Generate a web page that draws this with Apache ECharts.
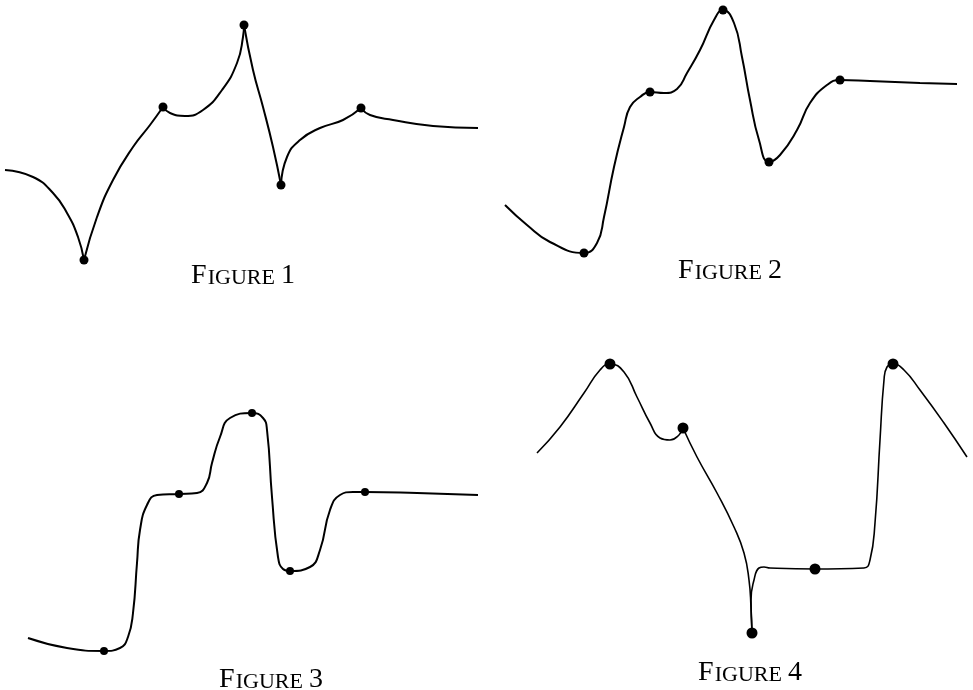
<!DOCTYPE html>
<html>
<head>
<meta charset="utf-8">
<script src="https://cdn.jsdelivr.net/npm/echarts@6/dist/echarts.min.js"></script>
<style>
html,body{margin:0;padding:0;background:#fff;}
#main{width:973px;height:690px;}
</style>
</head>
<body>
<div id="main"></div>
<script>
/* figure data: [x, y] in each panel's own units, y counted downward */
var fig1Segs = [
	[[5,170],[33,177],[53,193],[67,213],[78,237],[84,260]],
	[[84,260],[97,217],[113,180],[133,147],[150,125],[163,107]],
	[[163,107],[170,113],[185,116],[203,110],[222,90],[237,63],[243,37],[244,25]],
	[[244,25],[253,70],[263,107],[273,147],[281,185]],
	[[281,185],[287,157],[300,140],[320,128],[343,120],[361,108]],
	[[361,108],[370,115],[393,120],[433,126],[478,128]]
];
var fig1Dots = [[84,260],[163,107],[244,25],[281,185],[361,108]];

var fig2Segs = [
	[[18,205],[40,225],[63,242],[97,253],[110,243],[117,217],[127,167],[137,127],[143,107],
	 [153,97],[163,92],[177,93],[190,89],[200,73],[213,50],[227,20],[236,10],[247,23],
	 [255,57],[263,100],[272,140],[282,162],[293,155],[310,130],[323,103],[340,85],
	 [353,80],[383,81],[433,83],[470,84]]
];
var fig2Dots = [[97,253],[163,92],[236,10],[282,162],[353,80]];

var fig3Segs = [
	[[28,258],[67,268],[104,271],[120,268],[128,257],[133,233],[137,183],[140,150],[147,125],
	 [157,115],[179,114],[197,113],[207,103],[212,83],[220,57],[230,38],[252,33],[263,38],
	 [267,50],[272,117],[278,177],[283,189],[290,191],[310,187],[320,170],[330,130],
	 [340,115],[353,112],[365,112],[417,113],[478,115]]
];
var fig3Dots = [[104,271],[179,114],[252,33],[290,191],[365,112]];

var fig4Segs = [
	[[50,113],[73,87],[97,53],[113,30],[123,24],[137,32],[150,57],[163,83],[173,98],
	 [183,100],[192,95],[196,88]],
	[[196,88],[210,117],[230,153],[247,187],[257,213],[262,240],[264,267],[265,293]],
	[[265,293],[264,260],[267,240],[272,228],[277,227],[283,228],[328,229],[377,228],
	 [383,220],[388,183],[393,100],[397,40],[400,27],[406,24],[417,30],[433,50],[457,83],[480,117]]
];
var fig4Dots = [[123,24],[196,88],[265,293],[328,229],[406,24]];

var figNames = ['1', '2', '3', '4'];

var panels = [
	{left:0, top:0, width:486, height:300, segs:fig1Segs, dots:fig1Dots, lw:2, dot:9, tx:238, ty:257},
	{left:487, top:0, width:486, height:300, segs:fig2Segs, dots:fig2Dots, lw:2, dot:9, tx:725, ty:252},
	{left:0, top:380, width:486, height:310, segs:fig3Segs, dots:fig3Dots, lw:2, dot:8, tx:266, ty:661},
	{left:487, top:340, width:486, height:350, segs:fig4Segs, dots:fig4Dots, lw:1.6, dot:11, tx:745, ty:654}
];

var mychart = echarts.init(document.getElementById('main'));
var grids = [], xAxes = [], yAxes = [], series = [], titles = [];

panels.forEach(function(p, i){
	grids.push({left:p.left, top:p.top, width:p.width, height:p.height});
	xAxes.push({type:'value', gridIndex:i, min:0, max:p.width, show:false});
	yAxes.push({type:'value', gridIndex:i, min:0, max:p.height, inverse:true, show:false});
	p.segs.forEach(function(seg){
		series.push({
			type:'line',
			xAxisIndex:i,
			yAxisIndex:i,
			data:seg,
			smooth:0.5,
			showSymbol:false,
			clip:false,
			silent:true,
			lineStyle:{color:'#000', width:p.lw}
		});
	});
	series.push({
		type:'scatter',
		xAxisIndex:i,
		yAxisIndex:i,
		data:p.dots,
		symbolSize:p.dot,
		itemStyle:{color:'#000', opacity:1},
		clip:false,
		silent:true,
		z:5
	});
	titles.push({
		text:'{a|F}{b|IGURE} {a|' + figNames[i] + '}',
		left:p.tx,
		top:p.ty,
		textAlign:'center',
		textStyle:{
			fontWeight:'normal',
			rich:{
				a:{fontFamily:'Liberation Serif', fontWeight:'normal', fontSize:28, color:'#000', verticalAlign:'bottom', lineHeight:28},
				b:{fontFamily:'Liberation Serif', fontWeight:'normal', fontSize:22, color:'#000', verticalAlign:'bottom', lineHeight:28, padding:[0,1,1,1]}
			}
		}
	});
});

var option = {
	animation:false,
	backgroundColor:'#fff',
	title:titles,
	grid:grids,
	xAxis:xAxes,
	yAxis:yAxes,
	series:series
};
mychart.setOption(option);
</script>
</body>
</html>
